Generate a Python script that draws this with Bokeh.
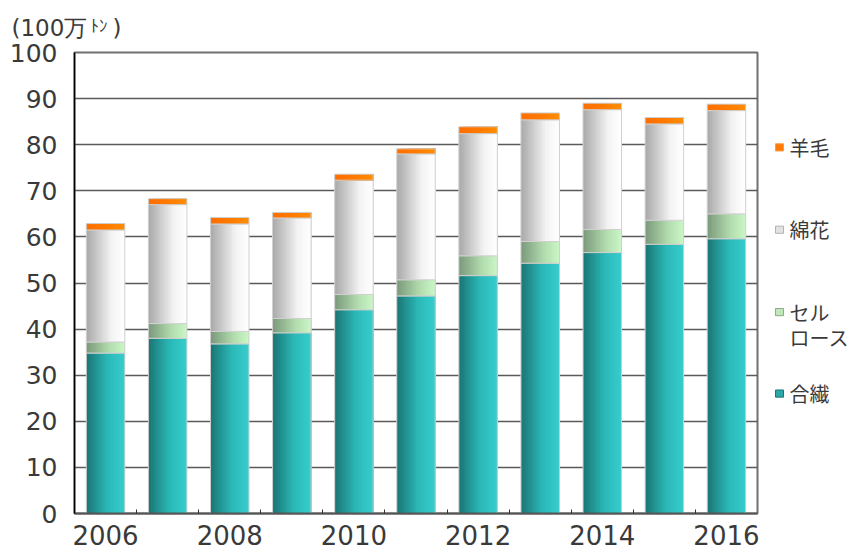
import numpy as np
from bokeh.plotting import figure
from bokeh.layouts import column, row
from bokeh.models import Range1d, FixedTicker, ColumnDataSource
from bokeh.core.properties import value
from bokeh.embed import file_html
from bokeh.resources import INLINE

# ---- data (100万トン) ----
years = [2006, 2007, 2008, 2009, 2010, 2011, 2012, 2013, 2014, 2015, 2016]
synthetic = [34.8, 38.0, 36.8, 39.2, 44.2, 47.2, 51.6, 54.3, 56.6, 58.4, 59.6]   # 合繊
cellulose = [2.4, 3.2, 2.7, 3.1, 3.3, 3.5, 4.3, 4.7, 5.0, 5.2, 5.4]             # セルロース
cotton = [24.3, 25.8, 23.3, 21.8, 24.8, 27.3, 26.5, 26.4, 26.0, 20.9, 22.4]     # 綿花
wool = [1.4, 1.3, 1.4, 1.2, 1.3, 1.1, 1.5, 1.5, 1.4, 1.4, 1.4]                  # 羊毛
x_tick_labels = ["2006", "2008", "2010", "2012", "2014", "2016"]
y_ticks = [0, 10, 20, 30, 40, 50, 60, 70, 80, 90, 100]
legend_labels = ["羊毛", "綿花", "セル", "ロース", "合繊"]
unit_label = ["(100万", "ﾄﾝ", ")"]

FONT_NUM = "DejaVu Sans"
FONT_JP = "Noto Sans CJK JP"
TXT = "#3a3a3a"

W_TOTAL = 853
TOP_H = 40
MAIN_W = 768
MAIN_H = 515


def bare(fig):
    fig.min_border = 0
    fig.min_border_left = 0
    fig.min_border_right = 0
    fig.min_border_top = 0
    fig.min_border_bottom = 0
    fig.outline_line_color = None
    fig.xgrid.visible = False
    fig.ygrid.visible = False
    fig.background_fill_color = "white"
    fig.border_fill_color = "white"


# ---- main chart ----
p = figure(width=MAIN_W, height=MAIN_H, output_backend="svg", toolbar_location=None,
           x_range=Range1d(2005.5, 2016.5), y_range=Range1d(0, 100),
           min_border_left=74, min_border_right=11, min_border_top=12,
           min_border_bottom=42)
p.background_fill_color = "white"
p.border_fill_color = "white"
p.outline_line_color = "#707070"
p.outline_line_width = 2

p.xgrid.visible = False
p.ygrid.ticker = FixedTicker(ticks=y_ticks)
p.ygrid.grid_line_color = "#5a5a5a"
p.ygrid.grid_line_width = 1.5

p.yaxis.ticker = FixedTicker(ticks=y_ticks)
p.yaxis.major_tick_in = 0
p.yaxis.major_tick_out = 0
p.yaxis.minor_tick_line_color = None
p.yaxis.axis_line_color = "black"
p.yaxis.axis_line_width = 1.5
p.yaxis.major_label_standoff = 17
p.yaxis.major_label_text_font = FONT_NUM
p.yaxis.major_label_text_font_size = "25px"
p.yaxis.major_label_text_color = TXT

p.xaxis.ticker = FixedTicker(ticks=[int(t) for t in x_tick_labels],
                             minor_ticks=[y + 0.5 for y in years[:-1]])
p.xaxis.major_label_overrides = {int(t): t for t in x_tick_labels}
p.xaxis.major_tick_in = 0
p.xaxis.major_tick_out = 0
p.xaxis.minor_tick_in = 4
p.xaxis.minor_tick_out = 0
p.xaxis.minor_tick_line_color = "#333333"
p.xaxis.axis_line_color = "#555555"
p.xaxis.axis_line_width = 2
p.xaxis.major_label_standoff = 11
p.xaxis.major_label_text_font = FONT_NUM
p.xaxis.major_label_text_font_size = "26px"
p.xaxis.major_label_text_color = TXT


def hex2rgb(h):
    h = h.lstrip("#")
    return np.array([int(h[i:i + 2], 16) for i in (0, 2, 4)], dtype=float)


def lerp(c1, c2, t):
    c = hex2rgb(c1) * (1 - t) + hex2rgb(c2) * t
    return "#%02x%02x%02x" % tuple(int(round(v)) for v in c)


def grad_colors(stops, n):
    out = []
    for i in range(n):
        t = (i + 0.5) / n
        for (p0, c0), (p1, c1) in zip(stops[:-1], stops[1:]):
            if p0 <= t <= p1:
                out.append(lerp(c0, c1, (t - p0) / (p1 - p0)))
                break
    return out


x = np.array(years, dtype=float)
s1 = np.array(synthetic)
s2 = s1 + np.array(cellulose)
s3 = s2 + np.array(cotton)
s4 = s3 + np.array(wool)

bar_w = 0.62
n_slices = 16
slice_w = bar_w / n_slices

segments = [
    (np.zeros_like(s1), s1, [(0, "#1a7573"), (0.55, "#2bb8b7"), (1, "#36cecc")]),
    (s1, s2, [(0, "#7a987a"), (0.6, "#b2dcae"), (1, "#cbf7c6")]),
    (s2, s3, [(0, "#a8a8a8"), (0.65, "#f3f3f3"), (1, "#ffffff")]),
    (s3, s4, [(0, "#ff6e00"), (0.5, "#ff7a00"), (1, "#ff8c00")]),
]

for bot, top, stops in segments:
    cols = grad_colors(stops, n_slices)
    for i, c in enumerate(cols):
        # each slice runs from its own left edge to the bar's right edge,
        # so later slices overlap earlier ones without gaps
        p.quad(left=x - bar_w / 2 + i * slice_w, right=x + bar_w / 2,
               bottom=bot, top=top, fill_color=c, line_color=None)
    p.quad(left=x - bar_w / 2, right=x + bar_w / 2, bottom=bot, top=top,
           fill_color=None, line_color="#d0d0d0", line_width=1)

# ---- top strip with unit label (data coords = page pixels) ----
t = figure(width=W_TOTAL, height=TOP_H, output_backend="svg", toolbar_location=None,
           x_range=Range1d(0, W_TOTAL), y_range=Range1d(TOP_H, 0),
           x_axis_location=None, y_axis_location=None)
bare(t)
t.text(x=[11], y=[27], text=[unit_label[0]], text_font=value(FONT_NUM),
       text_font_size="23px", text_color=TXT, text_baseline="middle", text_align="left")
t.text(x=[90], y=[24], text=[unit_label[1]], text_font=value(FONT_JP),
       text_font_size="17px", text_color=TXT, text_baseline="middle", text_align="left")
t.text(x=[112], y=[27], text=[unit_label[2]], text_font=value(FONT_NUM),
       text_font_size="23px", text_color=TXT, text_baseline="middle", text_align="left")

# ---- legend strip at the right (data coords = page pixels) ----
LEG_W = W_TOTAL - MAIN_W
lg = figure(width=LEG_W, height=MAIN_H, output_backend="svg", toolbar_location=None,
            x_range=Range1d(MAIN_W, W_TOTAL), y_range=Range1d(TOP_H + MAIN_H, TOP_H),
            x_axis_location=None, y_axis_location=None)
bare(lg)

sq_y = [146, 238, 330, 421]
sq_fill = ["#ff7a00", "#e2e2e2", "#bfe7b8", "#2aa7a6"]
sq_line = ["#ff9a40", "#b4b4b4", "#8eaa8e", "#1b7775"]
lg.quad(left=775, right=783, top=[yy - 4 for yy in sq_y], bottom=[yy + 4 for yy in sq_y],
        fill_color=sq_fill, line_color=sq_line, line_width=1)

txt_y = [146, 238, 330, 358, 421]
lg.text(x=[789] * len(legend_labels), y=txt_y, text=legend_labels,
        text_font=value(FONT_JP), text_font_size="20px", text_color=TXT,
        text_baseline="middle", text_align="left")

layout = column(t, row(p, lg, spacing=0), spacing=0)
open("out.html", "w").write(file_html(layout, INLINE))
